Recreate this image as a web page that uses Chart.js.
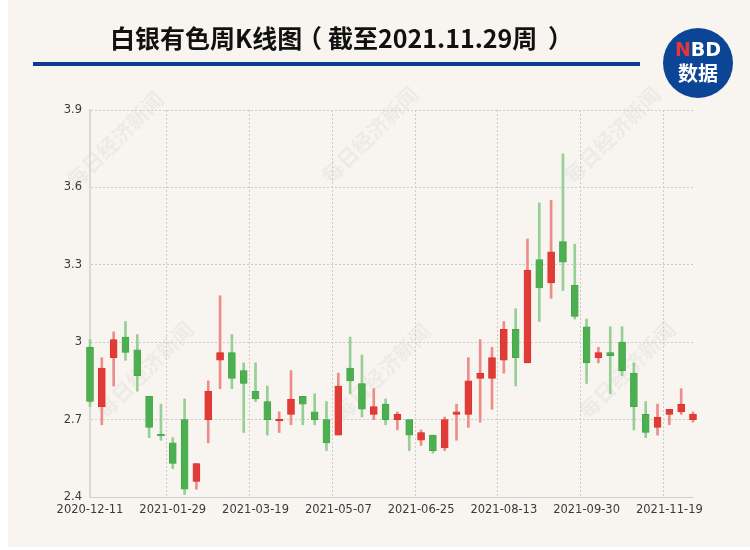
<!DOCTYPE html>
<html>
<head>
<meta charset="utf-8">
<script src="https://cdn.jsdelivr.net/npm/chart.js@4.4.1/dist/chart.umd.min.js"></script>
<style>
  html, body { margin: 0; padding: 0; background: #ffffff; }
  #wrap { position: absolute; left: 8px; top: 0; width: 742px; height: 547px; background: #f8f5f0; }
  #c { position: absolute; left: 0; top: 0; }
</style>
</head>
<body>
<div id="wrap"></div>
<canvas id="c" width="750" height="550"></canvas>
<script>
const titleParts = ['白银有色周K线图', '（', '截至2021.11.29周', '）'];
const weeks = [
  '2020-12-11','2020-12-18','2020-12-25','2020-12-31','2021-01-08','2021-01-15','2021-01-22',
  '2021-01-29','2021-02-05','2021-02-10','2021-02-19','2021-02-26','2021-03-05','2021-03-12',
  '2021-03-19','2021-03-26','2021-04-02','2021-04-09','2021-04-16','2021-04-23','2021-04-30',
  '2021-05-07','2021-05-14','2021-05-21','2021-05-28','2021-06-04','2021-06-11','2021-06-18',
  '2021-06-25','2021-07-02','2021-07-09','2021-07-16','2021-07-23','2021-07-30','2021-08-06',
  '2021-08-13','2021-08-20','2021-08-27','2021-09-03','2021-09-10','2021-09-17','2021-09-24',
  '2021-09-30','2021-10-08','2021-10-15','2021-10-22','2021-10-29','2021-11-05','2021-11-12',
  '2021-11-19','2021-11-26','2021-12-03'
];
const openVals = [
  2.98,2.75,2.94,3.02,2.97,2.79,2.643,2.61,2.70,2.46,2.70,2.93,2.96,2.89,2.81,2.77,2.695,2.72,
  2.79,2.73,2.70,2.64,2.90,2.84,2.72,2.76,2.70,2.70,2.62,2.64,2.59,2.72,2.72,2.86,2.86,2.93,
  3.05,2.92,3.32,3.23,3.39,3.22,3.06,2.94,2.96,3.00,2.88,2.72,2.67,2.72,2.73,2.70
];
const closeVals = [
  2.77,2.90,3.01,2.96,2.87,2.67,2.637,2.53,2.43,2.53,2.81,2.96,2.86,2.84,2.78,2.70,2.702,2.78,
  2.76,2.70,2.61,2.83,2.85,2.74,2.75,2.70,2.72,2.64,2.65,2.58,2.70,2.73,2.85,2.88,2.94,3.05,
  2.94,3.28,3.21,3.35,3.31,3.10,2.92,2.96,2.948,2.89,2.75,2.65,2.71,2.74,2.76,2.72
];
const highVals = [
  3.01,2.94,3.04,3.08,3.03,2.79,2.76,2.63,2.78,2.53,2.85,3.18,3.03,2.92,2.92,2.83,2.73,2.89,
  2.79,2.80,2.77,2.88,3.02,2.95,2.82,2.78,2.73,2.70,2.66,2.64,2.71,2.76,2.94,3.01,2.98,3.08,
  3.13,3.40,3.54,3.55,3.73,3.38,3.09,2.98,3.06,3.06,2.92,2.77,2.76,2.74,2.82,2.73
];
const lowVals = [
  2.75,2.68,2.83,2.93,2.81,2.63,2.62,2.51,2.41,2.43,2.61,2.82,2.82,2.65,2.77,2.64,2.65,2.68,
  2.68,2.68,2.58,2.64,2.80,2.71,2.70,2.68,2.66,2.58,2.60,2.57,2.58,2.62,2.67,2.69,2.74,2.88,
  2.83,2.92,3.08,3.17,3.20,3.09,2.84,2.92,2.80,2.87,2.66,2.63,2.64,2.68,2.72,2.69
];
const yTicks = [2.4, 2.7, 3.0, 3.3, 3.6, 3.9];
const labelStep = 7;

const UP = '#e03b36', DOWN = '#4caf50';
const UP_WICK = '#ec8d89', DOWN_WICK = '#96d096';
const GRID = '#cdc9c4';
const isUp = i => closeVals[i] >= openVals[i];

const wickData = weeks.map((w, i) => [lowVals[i], highVals[i]]);
const bodyData = weeks.map((w, i) => [openVals[i], closeVals[i]]);

function drawGlyphAt(ctx, text, left, y) {
  const m = ctx.measureText(text);
  ctx.textAlign = 'left';
  ctx.fillText(text, left + m.actualBoundingBoxLeft, y);
}

const decoPlugin = {
  id: 'deco',
  beforeDraw(chart) {
    const ctx = chart.ctx;
    ctx.save();
    // watermarks
    ctx.fillStyle = 'rgba(150,150,150,0.10)';
    ctx.font = 'bold 21px "Noto Sans CJK SC"';
    ctx.textAlign = 'center';
    ctx.textBaseline = 'middle';
    const marks = [[115,140],[370,135],[612,135],[145,370],[382,372],[627,370]];
    marks.forEach(([x, y]) => {
      ctx.save(); ctx.translate(x, y); ctx.rotate(-Math.PI / 4);
      ctx.fillText('每日经济新闻', 0, 0); ctx.restore();
    });
    // title (drawn in parts so the full-width brackets sit as in the original)
    ctx.fillStyle = '#111111';
    ctx.font = 'bold 25px "Noto Sans CJK SC"';
    ctx.textBaseline = 'middle';
    ctx.textAlign = 'left';
    ctx.fillText(titleParts[0], 110, 38);
    ctx.fillText(titleParts[2], 328, 38);
    drawGlyphAt(ctx, titleParts[1], 313, 38);
    drawGlyphAt(ctx, titleParts[3], 549, 38);
    // blue rule
    ctx.fillStyle = '#0b3e92';
    ctx.fillRect(33, 62, 607, 4);
    // logo
    ctx.beginPath();
    ctx.arc(698, 63, 35, 0, Math.PI * 2);
    ctx.fillStyle = '#0c4595';
    ctx.fill();
    ctx.font = 'bold 19px "DejaVu Sans"';
    ctx.textAlign = 'left';
    const nW = ctx.measureText('N').width, bdW = ctx.measureText('BD').width;
    const sx = 698 - (nW + bdW) / 2;
    ctx.fillStyle = '#e8353b';
    ctx.fillText('N', sx, 51);
    ctx.fillStyle = '#ffffff';
    ctx.fillText('BD', sx + nW, 51);
    ctx.textAlign = 'center';
    ctx.font = 'bold 20px "Noto Sans CJK SC"';
    ctx.fillText('数据', 698, 73);
    ctx.restore();
  }
};

new Chart(document.getElementById('c'), {
  type: 'bar',
  data: {
    labels: weeks,
    datasets: [
      {
        label: 'wick',
        data: wickData,
        backgroundColor: weeks.map((w, i) => isUp(i) ? UP_WICK : DOWN_WICK),
        barThickness: 2,
        grouped: false,
        order: 2,
        clip: false
      },
      {
        label: 'body',
        data: bodyData,
        backgroundColor: weeks.map((w, i) => isUp(i) ? UP : DOWN),
        borderColor: weeks.map((w, i) => isUp(i) ? '#d9302b' : '#43a047'),
        borderWidth: 0.6,
        borderSkipped: false,
        barThickness: 7,
        grouped: false,
        order: 1,
        clip: false
      }
    ]
  },
  options: {
    responsive: false,
    animation: false,
    events: [],
    layout: { padding: { left: 0, right: 57, top: 110, bottom: 23 } },
    plugins: { legend: { display: false }, tooltip: { enabled: false } },
    scales: {
      x: {
        type: 'category',
        offset: false,
        afterFit(s) { s.height = 30; },
        border: { display: true, color: '#cfcfcf', width: 1, dash: [2, 2] },
        grid: {
          drawTicks: false,
          color: ctx => (ctx.index % labelStep === 0 && ctx.index > 0) ? GRID : 'rgba(0,0,0,0)',
          lineWidth: 1
        },
        ticks: {
          autoSkip: false,
          maxRotation: 0,
          padding: 6,
          color: '#3a3a3a',
          font: { family: '"DejaVu Sans"', size: 11.5 },
          callback(v, i) { return i % labelStep === 0 ? weeks[i] : ''; }
        }
      },
      y: {
        min: 2.4,
        max: 3.9,
        afterFit(s) { s.width = 90; },
        afterBuildTicks(s) { s.ticks = yTicks.map(v => ({ value: v })); },
        border: { display: true, color: '#d9d9d9', width: 2, dash: [2, 2] },
        grid: {
          drawTicks: false,
          color: ctx => ctx.tick && ctx.tick.value === 2.4 ? 'rgba(0,0,0,0)' : GRID,
          lineWidth: 1
        },
        ticks: {
          padding: 8,
          color: '#3a3a3a',
          font: { family: '"DejaVu Sans"', size: 11.5 },
          callback(v) { return String(Math.round(v * 10) / 10); }
        }
      }
    }
  },
  plugins: [decoPlugin]
});
</script>
</body>
</html>
